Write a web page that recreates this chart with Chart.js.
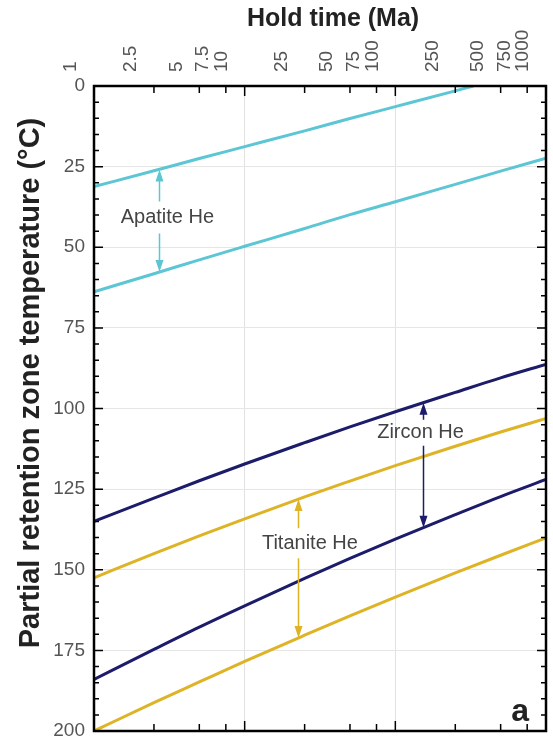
<!DOCTYPE html>
<html>
<head>
<meta charset="utf-8">
<script src="https://cdn.jsdelivr.net/npm/chart.js@4.4.0/dist/chart.umd.min.js"></script>
<style>
  html, body { margin: 0; padding: 0; background: #fff; }
  #wrap { width: 553px; height: 740px; }
</style>
</head>
<body>
<div id="wrap"><canvas id="chart"></canvas></div>
<script>
// hold time (Ma) where the curves were read
const holdTimes = [1, 2.5, 5, 10, 25, 50, 100, 250, 500, 1000];
// the upper apatite curve runs out of the frame at 0 °C
const apatiteUpperTimes = [1, 2.5, 5, 10, 25, 50, 100, 250, 330];
const apatiteUpper = [31.2, 26.3, 22.5, 18.8, 13.9, 10.1, 6.4, 1.5, 0];
const apatiteLower = [63.8, 58.2, 53.9, 49.7, 44.2, 39.9, 35.9, 30.5, 26.4, 22.4];
const zirconUpper = [135, 127.8, 122.4, 117.2, 110.6, 105.7, 101, 95, 90.5, 86.3];
const zirconLower = [184, 174.7, 167.8, 161.2, 152.7, 146.5, 140.5, 132.9, 127.3, 122];
const titaniteUpper = [152.5, 145, 139.5, 134.2, 127.4, 122.5, 117.7, 111.7, 107.3, 103.1];
const titaniteLower = [200, 191.2, 184.8, 178.4, 170.3, 164.3, 158.5, 151, 145.5, 140.1];

const xTickValues = [1, 2.5, 5, 7.5, 10, 25, 50, 75, 100, 250, 500, 750, 1000];

// PRZ arrows
const arrowNames = ['Apatite He', 'Zircon He', 'Titanite He'];
const arrowTimes = [2.7, 152, 22.7];
const arrowTop = [25.9, 98.2, 128.1];
const arrowBottom = [57.7, 137, 171.2];
const labelTimes = [3.07, 147, 27.1];
const labelTemps = [40.8, 107.5, 141.8];

const CYAN = '#5cc6d4', NAVY = '#1c1c6b', GOLD = '#deb325';
const arrowColors = [CYAN, NAVY, GOLD];
const FONT = '"Liberation Sans", Arial, sans-serif';

function pts(times, temps) {
    return times.map((t, i) => ({ x: t, y: temps[i] }));
}

function line(label, data, color) {
    return { label: label, data: data, borderColor: color, borderWidth: 3,
             pointRadius: 0, fill: false, cubicInterpolationMode: 'monotone' };
}

// inward ticks, frame, arrows, titles
const decorPlugin = {
    id: 'decor',
    afterDatasetsDraw(chart) {
        const ctx = chart.ctx;
        const a = chart.chartArea;
        const xs = chart.scales.x, ys = chart.scales.y;
        const gaps = [16, 13, 15];
        ctx.save();

        for (let i = 0; i < arrowNames.length; i++) {
            const x = Math.round(xs.getPixelForValue(arrowTimes[i])) + 0.5;
            const y1 = ys.getPixelForValue(arrowTop[i]);
            const y2 = ys.getPixelForValue(arrowBottom[i]);
            const yl = ys.getPixelForValue(labelTemps[i]);
            const hl = 12, hw = 4;
            ctx.strokeStyle = arrowColors[i];
            ctx.fillStyle = arrowColors[i];
            ctx.lineWidth = 1.5;
            ctx.beginPath();
            ctx.moveTo(x, y1 + hl - 1); ctx.lineTo(x, yl - gaps[i]);
            ctx.moveTo(x, yl + gaps[i]); ctx.lineTo(x, y2 - hl + 1);
            ctx.stroke();
            ctx.beginPath();
            ctx.moveTo(x, y1); ctx.lineTo(x - hw, y1 + hl); ctx.lineTo(x + hw, y1 + hl); ctx.closePath();
            ctx.moveTo(x, y2); ctx.lineTo(x - hw, y2 - hl); ctx.lineTo(x + hw, y2 - hl); ctx.closePath();
            ctx.fill();

            ctx.fillStyle = '#444';
            ctx.font = '20px ' + FONT;
            ctx.textAlign = 'center';
            ctx.textBaseline = 'middle';
            ctx.fillText(arrowNames[i], xs.getPixelForValue(labelTimes[i]), yl);
        }

        ctx.strokeStyle = '#000';
        ctx.lineWidth = 1.5;
        ctx.beginPath();
        xTickValues.forEach(v => {
            const x = xs.getPixelForValue(v);
            const len = [1, 10, 100, 1000].includes(v) ? 10 : 7;
            ctx.moveTo(x, a.top); ctx.lineTo(x, a.top + len);
            ctx.moveTo(x, a.bottom); ctx.lineTo(x, a.bottom - len);
        });
        for (let v = 0; v <= 200; v += 5) {
            const y = ys.getPixelForValue(v);
            const len = v % 25 === 0 ? 9 : 5;
            ctx.moveTo(a.left, y); ctx.lineTo(a.left + len, y);
            ctx.moveTo(a.right, y); ctx.lineTo(a.right - len, y);
        }
        ctx.stroke();

        ctx.lineWidth = 2.5;
        ctx.strokeRect(a.left, a.top, a.right - a.left, a.bottom - a.top);

        ctx.fillStyle = '#222';
        ctx.font = 'bold 32px ' + FONT;
        ctx.textAlign = 'right';
        ctx.textBaseline = 'alphabetic';
        ctx.fillText('a', a.right - 17, a.bottom - 10);

        // axis titles
        ctx.font = 'bold 25px ' + FONT;
        ctx.textAlign = 'center';
        ctx.textBaseline = 'middle';
        ctx.fillText('Hold time (Ma)', 333, 19);
        ctx.translate(31, 383);
        ctx.rotate(-Math.PI / 2);
        ctx.font = 'bold 29px ' + FONT;
        ctx.fillText('Partial retention zone temperature (°C)', 0, 0);
        ctx.restore();
    }
};

function fixX(scale) {
    scale.height = 86;
    scale.paddingLeft = 0; scale.paddingRight = 0;
}
function fixY(scale) {
    scale.width = 94;
    scale.paddingTop = 0; scale.paddingBottom = 0;
}

const ctx = document.getElementById('chart').getContext('2d');
new Chart(ctx, {
    type: 'line',
    data: {
        datasets: [
            line('Apatite He upper', pts(apatiteUpperTimes, apatiteUpper), CYAN),
            line('Apatite He lower', pts(holdTimes, apatiteLower), CYAN),
            line('Zircon He upper', pts(holdTimes, zirconUpper), NAVY),
            line('Zircon He lower', pts(holdTimes, zirconLower), NAVY),
            line('Titanite He upper', pts(holdTimes, titaniteUpper), GOLD),
            line('Titanite He lower', pts(holdTimes, titaniteLower), GOLD)
        ]
    },
    options: {
        responsive: true,
        maintainAspectRatio: false,
        animation: false,
        layout: { padding: { top: 0, left: 0, right: 7, bottom: 9 } },
        plugins: { legend: { display: false }, tooltip: { enabled: false } },
        scales: {
            x: {
                type: 'logarithmic',
                position: 'top',
                min: 1, max: 1000,
                afterBuildTicks: s => { s.ticks = xTickValues.map(v => ({ value: v })); },
                afterFit: fixX,
                border: { display: false },
                grid: {
                    drawTicks: false,
                    color: c => [10, 100].includes(c.tick && c.tick.value) ? '#e2e2e2' : 'rgba(0,0,0,0)',
                    lineWidth: 1
                },
                ticks: {
                    autoSkip: false, minRotation: 90, maxRotation: 90, padding: 14,
                    color: '#555',
                    font: { family: FONT, size: 19 },
                    callback: v => String(v)
                }
            },
            y: {
                type: 'linear',
                reverse: true,
                min: 0, max: 200,
                afterFit: fixY,
                border: { display: false },
                grid: {
                    drawTicks: false,
                    color: c => (c.tick && c.tick.value > 0 && c.tick.value < 200) ? '#e6e6e6' : 'rgba(0,0,0,0)'
                },
                ticks: {
                    stepSize: 25, padding: 9, color: '#555',
                    font: { family: FONT, size: 19 }
                }
            }
        }
    },
    plugins: [decorPlugin]
});
</script>
</body>
</html>
